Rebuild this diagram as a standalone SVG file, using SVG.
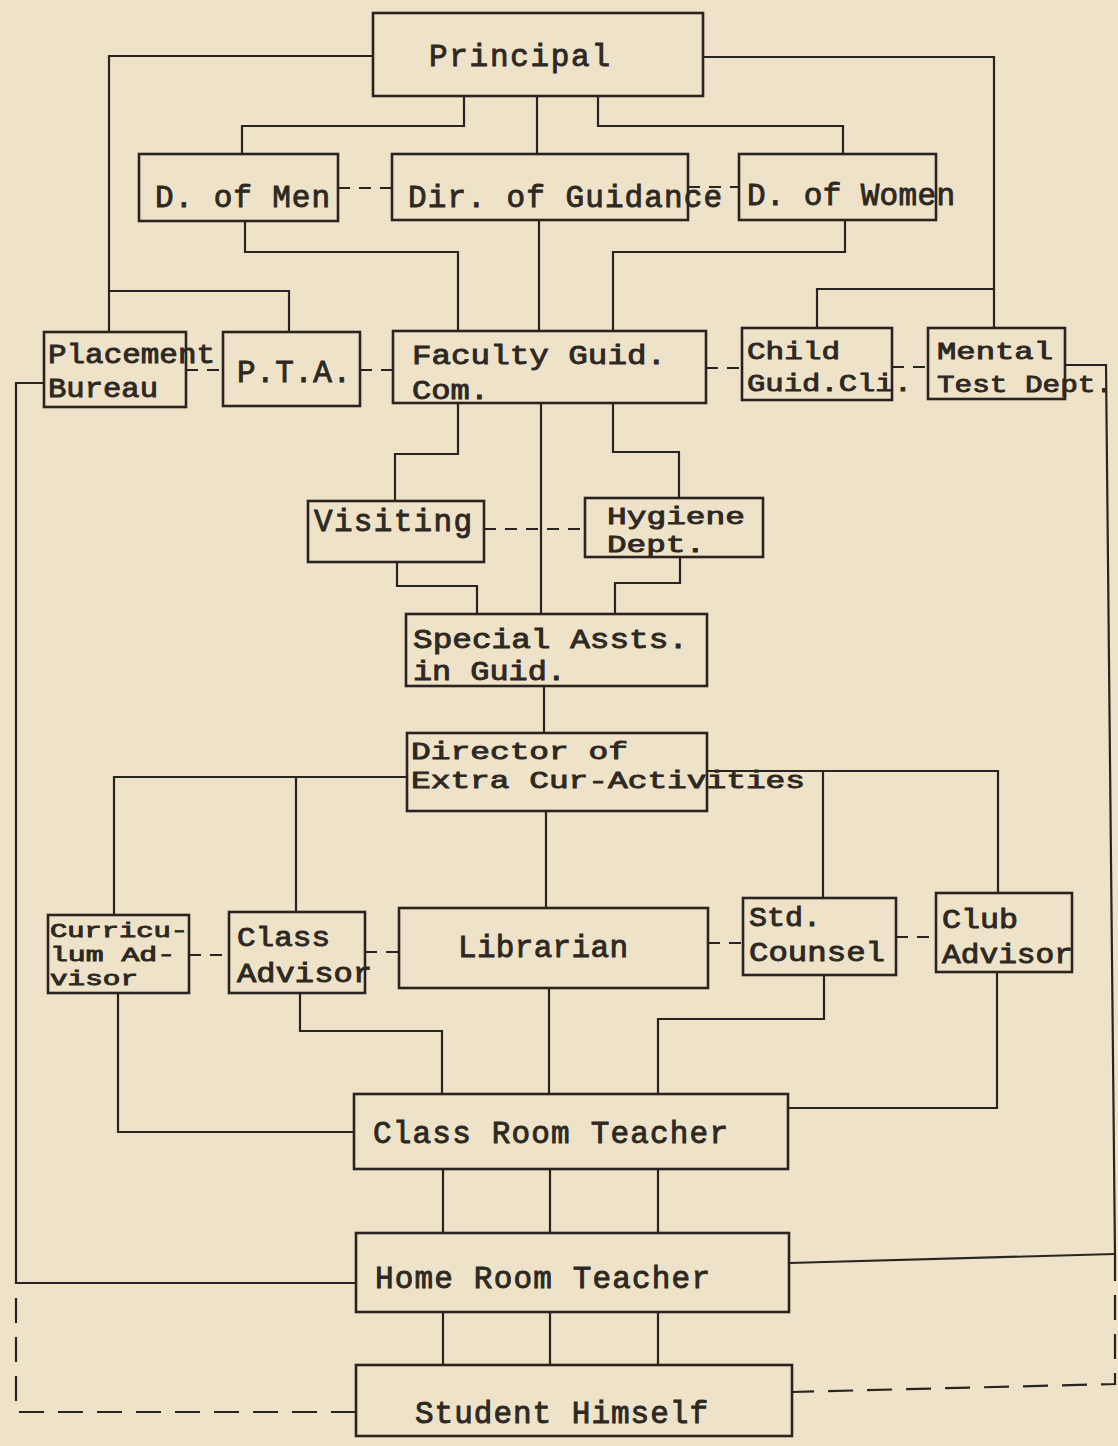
<svg xmlns="http://www.w3.org/2000/svg" width="1118" height="1446" viewBox="0 0 1118 1446">
<style>
.bg{fill:#eee3c9}
.box{fill:none;stroke:#2a2420;stroke-width:2.6}
.ln{fill:none;stroke:#2a2420;stroke-width:2.2}
.dl{fill:none;stroke:#2a2420;stroke-width:2.2;stroke-dasharray:12,9}
.dl2{fill:none;stroke:#2a2420;stroke-width:2.2;stroke-dasharray:25,14}
.t{font-family:"Liberation Mono","Courier New",monospace;font-size:31px;fill:#2e2822;stroke:#2e2822;stroke-width:0.9}
.m{font-size:27px}
.s{font-size:24px}
.xs{font-size:20px}
</style>
<rect class="bg" x="0" y="0" width="1118" height="1446"/>
<g id="connectors">
<path class="ln" d="M373,56 H109 V332"/>
<path class="ln" d="M109,291 H289 V332"/>
<path class="ln" d="M703,57 H994 V328"/>
<path class="ln" d="M994,289 H817 V328"/>
<path class="ln" d="M464,96 V126 H242 V154"/>
<path class="ln" d="M537,96 V154"/>
<path class="ln" d="M598,96 V126 H843 V154"/>
<path class="ln" d="M245,221 V252 H458 V331"/>
<path class="ln" d="M539,220 V331"/>
<path class="ln" d="M845,220 V252 H613 V331"/>
<path class="ln" d="M458,403 V454 H395 V501"/>
<path class="ln" d="M541,403 V614"/>
<path class="ln" d="M613,403 V452 H679 V498"/>
<path class="ln" d="M397,562 V586 H477 V614"/>
<path class="ln" d="M680,557 V583 H615 V614"/>
<path class="ln" d="M544,686 V733"/>
<path class="ln" d="M407,777 H114 V915"/>
<path class="ln" d="M296,777 V912"/>
<path class="ln" d="M707,771 H998 V893"/>
<path class="ln" d="M823,771 V898"/>
<path class="ln" d="M546,811 V908"/>
<path class="ln" d="M118,993 V1132 H354"/>
<path class="ln" d="M300,993 V1031 H442 V1094"/>
<path class="ln" d="M549,988 V1094"/>
<path class="ln" d="M824,975 V1019 H658 V1094"/>
<path class="ln" d="M997,972 V1108 H788"/>
<path class="ln" d="M443,1169 V1233 M550,1169 V1233 M658,1169 V1233"/>
<path class="ln" d="M443,1312 V1365 M550,1312 V1365 M658,1312 V1365"/>
<path class="ln" d="M44,383 H16 V1283 H356"/>
<path class="ln" d="M1065,365 H1106 L1115,1256"/>
<path class="ln" d="M789,1263 L1115,1254"/>
<path class="dl2" d="M1115,1256 V1384 L792,1392"/>
<path class="dl2" d="M356,1412 H16 V1283"/>
<path class="dl" d="M338,188 H392"/>
<path class="dl" d="M688,187 H739"/>
<path class="dl" d="M186,370 H223"/>
<path class="dl" d="M360,370 H393"/>
<path class="dl" d="M706,368 H742"/>
<path class="dl" d="M892,367 H928"/>
<path class="dl" d="M484,529 H585"/>
<path class="dl" d="M189,955 H229"/>
<path class="dl" d="M365,952 H399"/>
<path class="dl" d="M708,943 H743"/>
<path class="dl" d="M896,937 H936"/>
</g>
<g id="principal"><rect class="box" x="373" y="13" width="330" height="83"/><text class="t" x="429" y="66" textLength="181">Principal</text></g>
<g id="dean-men"><rect class="box" x="139" y="154" width="199" height="67"/><text class="t" x="155" y="207" textLength="175">D. of Men</text></g>
<g id="dir-guidance"><rect class="box" x="392" y="154" width="296" height="66"/><text class="t" x="408" y="207" textLength="314">Dir. of Guidance</text></g>
<g id="dean-women"><rect class="box" x="739" y="154" width="197" height="66"/><text class="t" x="747" y="205" textLength="208">D. of Women</text></g>
<g id="placement"><rect class="box" x="44" y="332" width="142" height="75"/><text class="t m" x="48" y="363" textLength="167" lengthAdjust="spacingAndGlyphs">Placement</text><text class="t m" x="48" y="397" textLength="110" lengthAdjust="spacingAndGlyphs">Bureau</text></g>
<g id="pta"><rect class="box" x="223" y="332" width="137" height="74"/><text class="t" x="237" y="382" textLength="114">P.T.A.</text></g>
<g id="faculty"><rect class="box" x="393" y="331" width="313" height="72"/><text class="t m" x="412" y="364" textLength="254" lengthAdjust="spacingAndGlyphs">Faculty Guid.</text><text class="t m" x="412" y="399" textLength="77" lengthAdjust="spacingAndGlyphs">Com.</text></g>
<g id="child-guid"><rect class="box" x="742" y="328" width="150" height="72"/><text class="t s" x="747" y="359" textLength="93" lengthAdjust="spacingAndGlyphs">Child</text><text class="t s" x="747" y="391" textLength="165" lengthAdjust="spacingAndGlyphs">Guid.Cli.</text></g>
<g id="mental-test"><rect class="box" x="928" y="328" width="137" height="71"/><text class="t s" x="937" y="359" textLength="116" lengthAdjust="spacingAndGlyphs">Mental</text><text class="t s" x="937" y="392" textLength="176" lengthAdjust="spacingAndGlyphs">Test Dept.</text></g>
<g id="visiting"><rect class="box" x="308" y="501" width="176" height="61"/><text class="t" x="314" y="531" textLength="158">Visiting</text></g>
<g id="hygiene"><rect class="box" x="585" y="498" width="178" height="59"/><text class="t s" x="607" y="524" textLength="138" lengthAdjust="spacingAndGlyphs">Hygiene</text><text class="t s" x="607" y="552" textLength="98" lengthAdjust="spacingAndGlyphs">Dept.</text></g>
<g id="special-assts"><rect class="box" x="406" y="614" width="301" height="72"/><text class="t m" x="413" y="648" textLength="275" lengthAdjust="spacingAndGlyphs">Special Assts.</text><text class="t m" x="413" y="680" textLength="153" lengthAdjust="spacingAndGlyphs">in Guid.</text></g>
<g id="director-extra"><rect class="box" x="407" y="733" width="300" height="78"/><text class="t s" x="411" y="759" textLength="217" lengthAdjust="spacingAndGlyphs">Director of</text><text class="t s" x="411" y="788" textLength="394" lengthAdjust="spacingAndGlyphs">Extra Cur-Activities</text></g>
<g id="curriculum"><rect class="box" x="48" y="915" width="141" height="78"/><text class="t xs" x="50" y="937" textLength="138" lengthAdjust="spacingAndGlyphs">Curricu-</text><text class="t xs" x="50" y="961" textLength="125" lengthAdjust="spacingAndGlyphs">lum Ad-</text><text class="t xs" x="50" y="985" textLength="88" lengthAdjust="spacingAndGlyphs">visor</text></g>
<g id="class-advisor"><rect class="box" x="229" y="912" width="136" height="81"/><text class="t m" x="237" y="946" textLength="93" lengthAdjust="spacingAndGlyphs">Class</text><text class="t m" x="237" y="982" textLength="135" lengthAdjust="spacingAndGlyphs">Advisor</text></g>
<g id="librarian"><rect class="box" x="399" y="908" width="309" height="80"/><text class="t" x="458" y="957" textLength="170">Librarian</text></g>
<g id="std-counsel"><rect class="box" x="743" y="898" width="153" height="77"/><text class="t m" x="749" y="926" textLength="72" lengthAdjust="spacingAndGlyphs">Std.</text><text class="t m" x="749" y="961" textLength="136" lengthAdjust="spacingAndGlyphs">Counsel</text></g>
<g id="club-advisor"><rect class="box" x="936" y="893" width="136" height="79"/><text class="t m" x="942" y="928" textLength="76" lengthAdjust="spacingAndGlyphs">Club</text><text class="t m" x="942" y="963" textLength="131" lengthAdjust="spacingAndGlyphs">Advisor</text></g>
<g id="class-room"><rect class="box" x="354" y="1094" width="434" height="75"/><text class="t" x="373" y="1143" textLength="355">Class Room Teacher</text></g>
<g id="home-room"><rect class="box" x="356" y="1233" width="433" height="79"/><text class="t" x="375" y="1288" textLength="335">Home Room Teacher</text></g>
<g id="student"><rect class="box" x="356" y="1365" width="436" height="71"/><text class="t" x="415" y="1423" textLength="293">Student Himself</text></g>
</svg>
